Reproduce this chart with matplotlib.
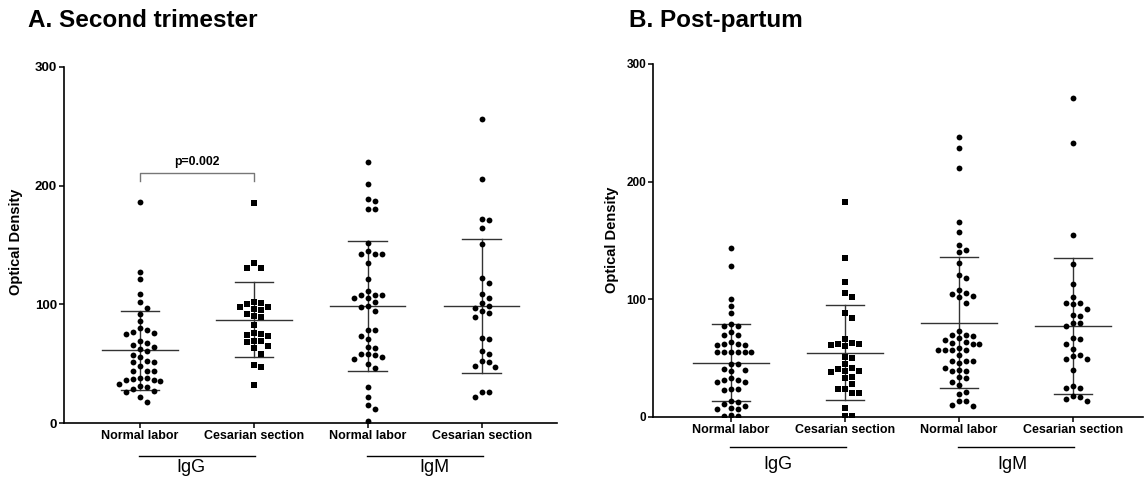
import matplotlib
matplotlib.use('Agg')
import matplotlib.pyplot as plt
import matplotlib.transforms as mtransforms
import numpy as np

plt.rcParams['font.family'] = ['Liberation Sans', 'DejaVu Sans']

categories = ['Normal labor', 'Cesarian section', 'Normal labor', 'Cesarian section']
groups = ['IgG', 'IgM']

# A. Second trimester
a_igg_normal = [186, 127, 121, 109, 102, 97, 92, 86, 80, 78, 77, 76, 75, 69, 67, 66, 64, 62,
                61, 57, 56, 52, 51, 51, 48, 44, 44, 44, 38, 38, 37, 36, 36, 35, 33, 31, 30,
                29, 27, 26, 22, 18]
a_igg_cesarian = [185, 135, 131, 131, 102, 101, 100, 98, 98, 96, 95, 92, 90, 89, 83, 76, 75,
                  74, 73, 69, 69, 68, 65, 63, 58, 49, 47, 32]
a_igm_normal = [220, 201, 189, 187, 180, 180, 152, 145, 142, 142, 142, 135, 121, 111, 108, 108,
                108, 105, 105, 102, 99, 98, 94, 78, 78, 73, 71, 64, 63, 58, 58, 57, 56, 54, 50,
                46, 30, 22, 15, 12, 2]
a_igm_cesarian = [256, 206, 172, 171, 164, 151, 122, 118, 109, 105, 101, 99, 97, 94, 93, 89, 72,
                  71, 61, 58, 52, 51, 48, 47, 26, 26, 22]
a_mean = [61.4, 87.2, 98.8, 98.7]
a_sd = [33.4, 31.2, 54.9, 56.4]

# B. Post-partum
b_igg_normal = [144, 128, 100, 94, 88, 79, 77, 77, 72, 70, 70, 64, 62, 62, 61, 61, 55, 55, 55,
                55, 55, 55, 45, 45, 41, 40, 39, 33, 31, 31, 30, 30, 24, 24, 23, 14, 13, 11, 9,
                8, 7, 7, 2, 1, 1]
b_igg_cesarian = [183, 135, 115, 105, 102, 88, 84, 66, 63, 62, 62, 61, 60, 51, 50, 45, 42, 41,
                  39, 39, 38, 34, 33, 28, 24, 24, 20, 20, 8, 1, 1]
b_igm_normal = [237.6, 228.2, 212, 165.9, 156.8, 146, 142.3, 139.8, 131, 120.5, 118.2, 108.3,
                105.5, 104.3, 102.6, 102, 97.2, 73.2, 70, 70, 68.9, 67, 65.8, 63.5, 63, 62, 62,
                59, 57, 57, 57, 57, 52.4, 47.6, 47.6, 47.6, 46, 42, 40, 39, 39, 34, 33, 29.8,
                27, 21.3, 19.8, 13.6, 13.3, 10.5, 9.4]
b_igm_cesarian = [271, 233, 155, 130, 113, 102, 97, 97, 96, 92, 87, 86, 80, 80, 77, 67, 66, 62,
                  58, 53, 52, 49, 49, 40, 26, 25, 25, 18, 17, 15, 14]
b_mean = [46.2, 54.7, 80.0, 77.4]
b_sd = [32.6, 40.1, 55.7, 57.6]

p_text = 'p=0.002'


def swarm(vals, px_per_unit, dx=0.06, h=6.8):
    # simple column-scatter layout: shift sideways when points would overlap
    vals = sorted(vals, reverse=True)
    placed = []
    xs = []
    for v in vals:
        cands = [0.0]
        for k in range(1, 20):
            cands += [k * dx, -k * dx]
        for c in cands:
            if all(not (abs(c - pc) < dx * 0.95 and abs(v - pv) * px_per_unit < h)
                   for pc, pv in placed):
                break
        placed.append((c, v))
        xs.append(c)
    return np.array(xs), np.array(vals)


def draw_panel(ax, data, means, sds, px_per_unit, xlim, tick_fs):
    markers = ['o', 's', 'o', 'o']
    for i, vals in enumerate(data):
        pos = i + 1
        off, v = swarm(vals, px_per_unit)
        ms = 4.2 if markers[i] == 'o' else 4.0
        ax.plot(pos + off, v, linestyle='none', marker=markers[i], color='black',
                markersize=ms, markeredgewidth=0, zorder=3)
        m, s = means[i], sds[i]
        lc = '#333333'
        ax.plot([pos, pos], [m - s, m + s], color=lc, lw=1.0, zorder=2)
        ax.plot([pos - 0.17, pos + 0.17], [m + s, m + s], color=lc, lw=1.0, zorder=2)
        ax.plot([pos - 0.17, pos + 0.17], [m - s, m - s], color=lc, lw=1.0, zorder=2)
        ax.plot([pos - 0.33, pos + 0.33], [m, m], color=lc, lw=1.0, zorder=2)
    ax.set_xlim(*xlim)
    ax.set_ylim(0, 300)
    ax.set_yticks([0, 100, 200, 300])
    ax.set_xticks([1, 2, 3, 4])
    ax.set_xticklabels(categories, fontsize=9, fontweight='bold')
    for lab in ax.get_yticklabels():
        lab.set_fontsize(tick_fs)
        lab.set_fontweight('bold')
    ax.tick_params(axis='both', direction='out', length=3.5, width=1.1, pad=1.5)
    for sp in ['top', 'right']:
        ax.spines[sp].set_visible(False)
    for sp in ['left', 'bottom']:
        ax.spines[sp].set_linewidth(1.2)


fig = plt.figure(figsize=(11.44, 4.82), dpi=100)

ax1 = fig.add_axes([0.0559, 0.1224, 0.431, 0.7386])
draw_panel(ax1, [a_igg_normal, a_igg_cesarian, a_igm_normal, a_igm_cesarian],
           a_mean, a_sd, 1.187, (0.333, 4.66), 9.5)

ax2 = fig.add_axes([0.5708, 0.1349, 0.4283, 0.7324])
draw_panel(ax2, [b_igg_normal, b_igg_cesarian, b_igm_normal, b_igm_cesarian],
           b_mean, b_sd, 1.177, (0.316, 4.614), 8.5)

# group brackets under the category labels
for ax, line_y, text_y, text_x in [(ax1, -0.093, -0.124, [1.45, 3.58]),
                                   (ax2, -0.085, -0.136, [1.41, 3.47])]:
    tr = mtransforms.blended_transform_factory(ax.transData, ax.transAxes)
    for j, g in enumerate(groups):
        x0 = 1 + 2 * j
        ax.plot([x0 - 0.01, x0 + 1.01], [line_y, line_y], color='black', lw=1.0,
                transform=tr, clip_on=False)
        ax.text(text_x[j], text_y, g, transform=tr, ha='center', va='center', fontsize=13)

# significance bracket
ax1.plot([1, 1, 2, 2], [204, 210.6, 210.6, 204], color='#777777', lw=1.0)
ax1.text(1.5, 220, p_text, ha='center', va='center', fontsize=8.8, fontweight='bold')

fig.text(0.0245, 0.9585, 'A. Second trimester', fontsize=17.5, fontweight='bold', va='center')
fig.text(0.55, 0.9585, 'B. Post-partum', fontsize=17.5, fontweight='bold', va='center')
fig.text(16 / 1144, 0.498, 'Optical Density', rotation=90, fontsize=10.5, fontweight='bold',
         ha='center', va='center')
fig.text(612 / 1144, 0.502, 'Optical Density', rotation=90, fontsize=10.5, fontweight='bold',
         ha='center', va='center')

fig.savefig('out.png', dpi=100)
